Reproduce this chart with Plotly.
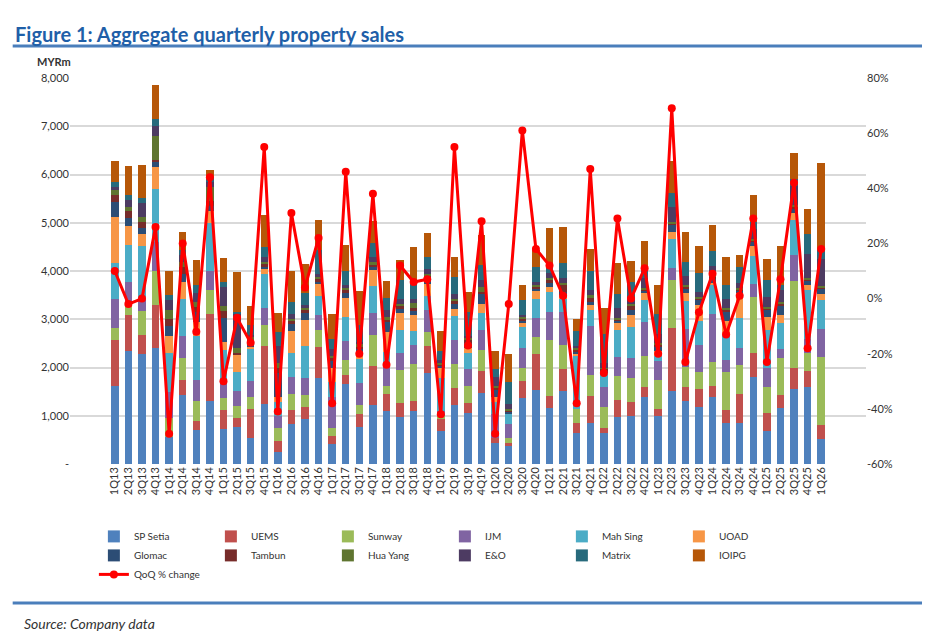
import plotly.graph_objects as go

# quarters 1Q13 .. 1Q26
quarters = [f"{q}Q{y}" for y in range(13, 26) for q in range(1, 5)] + ["1Q26"]

sp_setia = [1620,2350,2270,2400, 550,1420,700,1300, 720,760,530,1240, 250,830,940,1780,
            420,1650,760,1230, 1100,970,1100,1890, 690,1220,1060,1470, 430,380,1370,1530,
            1160,1510,640,850, 640,970,990,1390, 990,1510,1310,1180, 1390,850,850,1800,
            690,1160,1560,1600, 520]
uems = [950,730,400,900, 0,320,200,1800, 400,200,600,1200, 220,280,250,650,
        170,200,270,800, 350,300,200,550, 250,350,200,450, 100,50,350,750,
        250,450,200,550, 100,350,300,200, 150,1300,280,380, 230,270,610,500,
        360,280,430,320, 280]
sunway = [250,200,500,700, 400,460,400,500, 250,250,250,450, 270,350,250,350,
          150,300,200,650, 170,680,770,300, 50,500,350,450, 0,100,280,350,
          1150,500,300,450, 450,500,500,650, 600,1000,420,340, 490,790,590,1160,
          550,750,1810,380, 1420]
ijm = [600,500,250,600, 550,450,450,400, 300,300,350,350, 250,350,350,300,
       650,400,450,450, 400,350,400,450, 100,500,350,400, 500,300,400,400,
       600,700,0,1000, 400,400,400,700, 400,250,780,570, 990,240,350,270,
       390,190,530,300, 580]
mah_sing = [750,750,1100,1100, 800,780,900,1000, 700,400,650,700, 300,500,650,400,
            300,500,500,550, 300,470,280,300, 700,500,350,350, 250,200,430,400,
            400,250,1100,350, 300,550,650,450, 100,600,580,490, 620,530,620,580,
            790,540,730,1000, 590]
uoad = [950,400,240,450, 350,350,300,250, 150,350,50,100, 100,450,550,250,
        300,400,100,350, 420,350,330,250, 200,150,100,200, 100,0,100,150,
        100,100,50,100, 0,150,250,150, 100,150,170,340, 30,280,520,200,
        270,170,140,100, 140]
glomac = [300,170,130,100, 200,150,200,100, 500,0,100,50, 500,150,150,50,
          150,100,100,50, 200,100,100,100, 50,100,100,200, 150,50,50,50,
          100,50,50,50, 50,50,100,50, 100,150,100,100, 100,200,50,100,
          150,200,100,100, 100]
tambun = [150,150,120,50, 150,150,100,100, 150,50,50,50, 100,50,50,50,
          50,50,50,50, 50,50,50,50, 30,50,50,50, 50,30,30,50,
          50,150,30,100, 30,30,100,30, 30,30,30,30, 30,50,30,30,
          30,30,30,30, 30]
hua_yang = [100,80,100,500, 200,100,100,300, 100,100,50,50, 100,50,50,50,
            50,50,50,50, 50,50,100,50, 30,50,50,100, 30,30,30,30,
            50,50,30,50, 30,30,30,30, 30,30,30,30, 30,30,30,30,
            30,30,30,30, 30]
eo = [80,150,300,200, 200,150,200,100, 400,700,50,100, 350,100,50,50,
      150,50,50,100, 150,100,100,100, 50,100,50,150, 200,100,50,70,
      100,100,50,100, 100,200,150,200, 200,300,200,100, 200,180,100,200,
      200,250,400,500, 550]
matrix = [100,100,110,150, 100,100,150,100, 100,50,200,200, 300,250,250,500,
          200,300,350,300, 250,400,350,250, 200,350,500,300, 150,450,300,300,
          150,300,300,400, 600,300,300,150, 400,300,290,400, 300,300,330,150,
          350,100,150,400, 200]
ioipg = [420,590,680,700, 500,370,530,150, 500,820,390,680, 400,640,600,620,
         510,540,700,460, 350,410,720,500, 410,420,410,630, 380,590,320,350,
         780,750,260,460, 530,640,430,620, 610,660,620,560, 550,570,250,560,
         440,820,540,520, 1800]
qoq = [10,-2,0,26, -49,20,-12,44, -30,-7,-16,55, -41,31,4,22,
       -38,46,-20,38, -24,12,6,7, -42,55,-17,28, -49,-2,61,18,
       12,1,-38,47, -27,29,0,11, -20,69,-23,-5, 9,-13,1,29,
       -23,7,42,-18, 18]

series = [
    ("SP Setia", sp_setia, "#4F81BD"),
    ("UEMS", uems, "#C0504D"),
    ("Sunway", sunway, "#9BBB59"),
    ("IJM", ijm, "#8064A2"),
    ("Mah Sing", mah_sing, "#4BACC6"),
    ("UOAD", uoad, "#F79646"),
    ("Glomac", glomac, "#2C4D75"),
    ("Tambun", tambun, "#772C2A"),
    ("Hua Yang", hua_yang, "#5F7530"),
    ("E&O", eo, "#4D3B62"),
    ("Matrix", matrix, "#276A7C"),
    ("IOIPG", ioipg, "#B65708"),
]

fig = go.Figure()
for name, vals, col in series:
    fig.add_trace(go.Bar(x=quarters, y=vals, name=name, marker_color=col, marker_line_width=0))

fig.add_trace(go.Scatter(x=quarters, y=qoq, name="QoQ % change", yaxis="y2",
                         mode="lines+markers", line=dict(color="#FF0000", width=3),
                         marker=dict(color="#FF0000", size=8)))

left_ticks = list(range(0, 8001, 1000))
left_text = ["-"] + [f"{v:,}" for v in left_ticks[1:]]
right_ticks = list(range(-60, 81, 20))
right_text = [f"{v}%" for v in right_ticks]

fig.update_layout(
    width=930, height=632, barmode="stack", bargap=0.45,
    paper_bgcolor="white", plot_bgcolor="white",
    font=dict(family="Lato, Open Sans, sans-serif", size=11, color="#333333"),
    margin=dict(l=62, r=72, t=70, b=176),
    xaxis=dict(tickangle=-90, showgrid=False, showline=False, tickfont=dict(size=11)),
    yaxis=dict(range=[0, 8000], tickvals=left_ticks, ticktext=left_text,
               gridcolor="#D9D9D9", gridwidth=1.5, zeroline=False),
    yaxis2=dict(range=[-60, 80], tickvals=right_ticks, ticktext=right_text,
                overlaying="y", side="right", showgrid=False, zeroline=False),
    legend=dict(orientation="h", x=0.03, y=-0.15, yanchor="top", traceorder="normal",
                entrywidth=72, tracegroupgap=0, font=dict(size=10)),
    showlegend=True,
)

fig.add_annotation(text="<b>Figure 1: Aggregate quarterly property sales</b>",
                   xref="paper", yref="paper", x=-0.072, y=1.15, xanchor="left",
                   showarrow=False, font=dict(size=20, color="#1F5FA8"))
fig.add_annotation(text="<b>MYRm</b>", xref="paper", yref="paper", x=-0.02, y=1.02,
                   xanchor="center", yanchor="bottom", showarrow=False, font=dict(size=11))
fig.add_annotation(text="<i>Source: Company data</i>", xref="paper", yref="paper",
                   x=-0.06, y=-0.385, xanchor="left", yanchor="top", showarrow=False,
                   font=dict(size=14, color="#333333"))
for yy in (1.083, -0.36):
    fig.add_shape(type="line", xref="paper", yref="paper", x0=-0.072, x1=1.078,
                  y0=yy, y1=yy, line=dict(color="#4A7EBB", width=3))

fig.write_html("out.html")
